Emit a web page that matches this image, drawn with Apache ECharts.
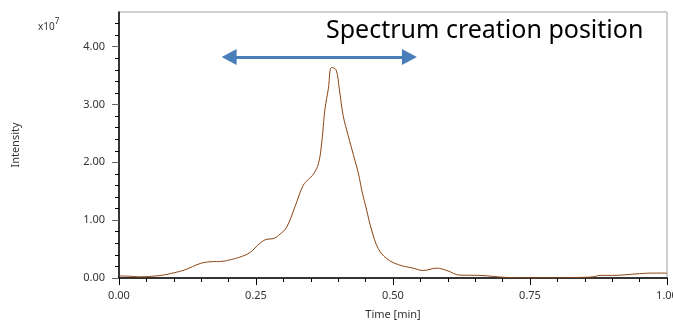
<!DOCTYPE html>
<html>
<head>
<meta charset="utf-8">
<script src="https://cdn.jsdelivr.net/npm/echarts@6/dist/echarts.min.js"></script>
<style>
  html, body { margin: 0; padding: 0; background: #fff; }
  #main { width: 673px; height: 322px; }
</style>
</head>
<body>
<div id="main"></div>
<script>
// chromatogram (intensity in units of 1e7)
var times = [0.000, 0.020, 0.038, 0.060, 0.080, 0.100, 0.120, 0.148, 0.166, 0.190,
  0.205, 0.220, 0.239, 0.257, 0.270, 0.281, 0.294, 0.306, 0.321, 0.336,
  0.345, 0.355, 0.364, 0.370, 0.376, 0.382, 0.388, 0.396, 0.402, 0.409,
  0.418, 0.428, 0.437, 0.443, 0.452, 0.461, 0.473, 0.488, 0.510, 0.537,
  0.555, 0.580, 0.598, 0.622, 0.659, 0.707, 0.750, 0.800, 0.840, 0.865,
  0.878, 0.900, 0.950, 0.975, 0.996, 1.000];
var intensity = [0.035, 0.030, 0.020, 0.030, 0.050, 0.090, 0.140, 0.250, 0.280, 0.290,
  0.320, 0.360, 0.440, 0.600, 0.670, 0.680, 0.760, 0.880, 1.230, 1.600,
  1.700, 1.800, 1.980, 2.350, 2.930, 3.270, 3.640, 3.600, 3.270, 2.810,
  2.470, 2.120, 1.800, 1.520, 1.170, 0.830, 0.510, 0.340, 0.230, 0.170,
  0.130, 0.170, 0.130, 0.050, 0.045, 0.010, 0.005, 0.005, 0.010, 0.020,
  0.045, 0.045, 0.075, 0.085, 0.085, 0.085];
var yTicks = [0, 1, 2, 3, 4];
var arrowTimes = [0.201, 0.530];
var arrowLevel = 3.82;
var noteText = 'Spectrum creation position';

var myChart = echarts.init(document.getElementById('main'));

var points = times.map(function (t, i) { return [t, intensity[i]]; });
var font = 'Noto Sans';

var option = {
  animation: false,
  grid: {
    left: 119, right: 6, top: 12, bottom: 44,
    outerBoundsMode: 'none',
    containLabel: false,
    show: true, borderColor: '#a0a0a0', borderWidth: 1
  },
  xAxis: {
    type: 'value',
    min: 0, max: 1, interval: 0.25,
    name: 'Time [min]',
    nameLocation: 'middle',
    nameGap: 31,
    nameTextStyle: { color: '#333', fontSize: 11, fontFamily: font },
    axisLine: { lineStyle: { color: '#000', width: 1.5 } },
    axisTick: { length: 7, lineStyle: { color: '#000' } },
    minorTick: { show: true, splitNumber: 5, length: 4, lineStyle: { color: '#000' } },
    axisLabel: {
      margin: 12, color: '#333', fontSize: 11, fontFamily: font,
      formatter: function (v) { return v.toFixed(2); }
    },
    splitLine: { show: false }
  },
  yAxis: {
    type: 'value',
    min: 0, max: 4.6, interval: 1,
    name: 'Intensity',
    nameLocation: 'middle',
    nameGap: 98,
    nameTextStyle: { color: '#333', fontSize: 11, fontFamily: font },
    axisLine: { show: true, lineStyle: { color: '#000', width: 1.5 } },
    axisTick: { show: true, length: 7, customValues: yTicks, lineStyle: { color: '#666' } },
    minorTick: { show: true, splitNumber: 5, length: 4, lineStyle: { color: '#000' } },
    axisLabel: {
      margin: 14, color: '#333', fontSize: 11, fontFamily: font,
      customValues: yTicks,
      formatter: function (v) { return v.toFixed(2); }
    },
    splitLine: { show: false }
  },
  graphic: [
    {
      type: 'text', left: 38, top: 18,
      style: {
        text: '{b|x10}{s|7}',
        rich: {
          b: { fontSize: 10, fontFamily: font, fill: '#333', verticalAlign: 'bottom', lineHeight: 14 },
          s: { fontSize: 8, fontFamily: font, fill: '#333', verticalAlign: 'top', lineHeight: 14, padding: [0, 0, 6, 0] }
        }
      }
    },
    {
      type: 'text', left: 326, top: 18,
      style: { text: noteText, fontSize: 25, fontFamily: font, fill: '#000' }
    }
  ],
  series: [
    {
      type: 'line',
      data: points,
      smooth: 0.4,
      showSymbol: false,
      lineStyle: { color: '#8b4513', width: 1 },
      markLine: {
        silent: true,
        symbol: ['triangle', 'triangle'],
        symbolSize: [16, 15],
        label: { show: false },
        lineStyle: { color: '#4a7ebb', width: 3, type: 'solid' },
        data: [[{ coord: [arrowTimes[0], arrowLevel] }, { coord: [arrowTimes[1], arrowLevel] }]]
      }
    }
  ]
};

myChart.setOption(option);
</script>
</body>
</html>
